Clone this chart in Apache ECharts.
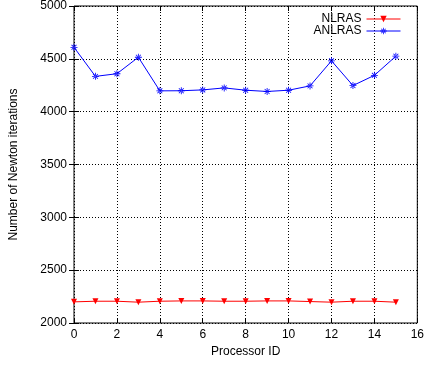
<!DOCTYPE html>
<html>
<head>
<meta charset="utf-8">
<script src="https://cdn.jsdelivr.net/npm/echarts@6/dist/echarts.min.js"></script>
<style>
  html, body { margin: 0; padding: 0; background: #fff; }
  #chart { width: 427px; height: 368px; }
</style>
</head>
<body>
<div id="chart"></div>
<script>
// Newton iteration counts per processor for the two solvers
const processorIds = [0, 1, 2, 3, 4, 5, 6, 7, 8, 9, 10, 11, 12, 13, 14, 15];
const nlrasIterations = [2200, 2206, 2206, 2197, 2206, 2209, 2209, 2206, 2206, 2209, 2209, 2203, 2197, 2206, 2206, 2197];
const anlrasIterations = [4609, 4334, 4359, 4515, 4197, 4198, 4206, 4225, 4203, 4191, 4203, 4244, 4481, 4247, 4344, 4525];

// Asterisk marker (plus overlaid with a cross) built from thin bars
const asterisk = 'path://M-1,-0.12H1V0.12H-1Z M-0.12,-1H0.12V1H-0.12Z ' +
  'M-0.78,-0.62L0.62,0.78L0.78,0.62L-0.62,-0.78Z M0.62,-0.78L-0.78,0.62L-0.62,0.78L0.78,-0.62Z';

const font = 'Liberation Sans, Arial, sans-serif';
const fontSize = 12;
const pairs = (ys) => processorIds.map((x, i) => [x, ys[i]]);

const chart = echarts.init(document.getElementById('chart'), null, { renderer: 'canvas' });

// Mirrored axes on the top and right carry only inward ticks
const hiddenAxisCommon = {
  axisLabel: { show: false },
  splitLine: { show: false },
  axisLine: { show: false },
  axisTick: { show: true, inside: true, length: 5, lineStyle: { color: '#000', width: 1 } }
};

chart.setOption({
  animation: false,
  backgroundColor: '#fff',
  grid: {
    left: 73, right: 8, top: 3, bottom: 45,
    show: true, borderColor: '#000', borderWidth: 1, backgroundColor: 'transparent'
  },
  legend: {
    right: 21, top: 8,
    orient: 'vertical',
    align: 'right',
    itemWidth: 34, itemHeight: 8, itemGap: 0,
    lineStyle: { width: 1 },
    textStyle: { fontFamily: font, fontSize: fontSize, lineHeight: 12, color: '#000', padding: [0, 0, 0, 0] },
    data: ['NLRAS', 'ANLRAS']
  },
  xAxis: [{
    type: 'value', min: 0, max: 16, interval: 2,
    name: 'Processor ID', nameLocation: 'middle', nameGap: 23,
    nameTextStyle: { fontFamily: font, fontSize: fontSize, color: '#000' },
    axisLine: { show: false },
    axisTick: { show: true, inside: true, length: 5, lineStyle: { color: '#000' } },
    axisLabel: { fontFamily: font, fontSize: fontSize, color: '#000', margin: 6 },
    splitLine: { show: true, lineStyle: { type: [1, 2], color: '#000', width: 1 } }
  }, Object.assign({ type: 'value', min: 0, max: 16, interval: 2, position: 'top' }, hiddenAxisCommon)],
  yAxis: [{
    type: 'value', min: 2000, max: 5000, interval: 500,
    name: 'Number of Newton iterations', nameLocation: 'middle', nameGap: 54,
    nameTextStyle: { fontFamily: font, fontSize: fontSize, color: '#000' },
    axisLine: { show: false },
    axisTick: { show: true, inside: true, length: 5, lineStyle: { color: '#000' } },
    axisLabel: { fontFamily: font, fontSize: fontSize, color: '#000', margin: 7, formatter: (v) => String(v) },
    splitLine: { show: true, lineStyle: { type: [1, 2], color: '#000', width: 1 } }
  }, Object.assign({ type: 'value', min: 2000, max: 5000, interval: 500, position: 'right' }, hiddenAxisCommon)],
  series: [{
    name: 'NLRAS', type: 'line',
    data: pairs(nlrasIterations),
    color: '#ff0000',
    lineStyle: { width: 1, color: '#ff0000' },
    symbol: 'triangle', symbolRotate: 180, symbolSize: 6,
    itemStyle: { color: '#ff0000' }
  }, {
    name: 'ANLRAS', type: 'line',
    data: pairs(anlrasIterations),
    color: '#0000ff',
    lineStyle: { width: 1, color: '#0000ff' },
    symbol: asterisk, symbolSize: 7,
    itemStyle: { color: '#0000ff' }
  }]
});
</script>
</body>
</html>
